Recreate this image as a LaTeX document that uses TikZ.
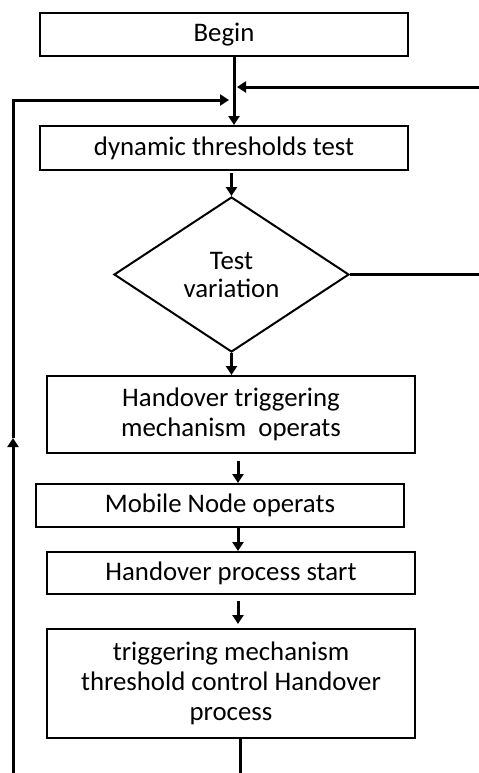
\documentclass[tikz,border=0pt]{standalone}
\usepackage{fontspec}
\setmainfont{Carlito}
\usetikzlibrary{arrows.meta,shapes.geometric}

\begin{document}
\begin{tikzpicture}[x=0.5pt,y=-0.5pt,
  caja/.style={draw,line width=1pt,minimum width=184pt,inner sep=0pt,align=center,
    font=\fontsize{13.4}{15}\selectfont},
  rombo/.style={diamond,draw,line width=1pt,minimum width=117.5pt,minimum height=77.5pt,
    inner sep=0pt,align=center,font=\fontsize{13.4}{14}\selectfont},
  flecha/.style={line width=1.5pt,-{Triangle[length=4.5pt,width=5.5pt]}}]
 \useasboundingbox (0,0) rectangle (478,773);
 % cajas del diagrama
 \node[caja,minimum height=21.5pt] (begin) at (224,34.5) {Begin};
 \node[caja,minimum height=22pt] (dyn) at (224,148) {dynamic thresholds test};
 \node[rombo] (test) at (231.5,274.5) {Test\\variation};
 \node[caja,minimum height=38.5pt] (hto) at (231,414.5) {Handover triggering\\mechanism~~operats};
 \node[caja,minimum height=21.5pt] (mno) at (220,505.5) {Mobile Node operats};
 \node[caja,minimum height=21pt] (hps) at (231,573) {Handover process start};
 \node[caja,minimum height=54.5pt] (tmc) at (231,683.5) {triggering mechanism\\threshold control Handover\\process};
 % puntos de los lazos
 \coordinate (r1) at (481,274.5);
 \coordinate (r2) at (481,87);
 \coordinate (j1) at (237,87);
 \coordinate (b1) at (240,774);
 \coordinate (b2) at (13,774);
 \coordinate (l1) at (13,438);
 \coordinate (l2) at (13,100);
 \coordinate (j2) at (229,100);
 % flujo principal
 \draw[flecha] ([xshift=5pt]begin.south) -- ([xshift=5pt]dyn.north);
 \draw[flecha,shorten <=1pt] (test.north |- dyn.south) -- (test.north);
 \draw[flecha] (test.south) -- (test.south |- hto.north);
 \draw[flecha,shorten <=3.5pt] ([xshift=3.5pt]hto.south) -- ([xshift=9pt]mno.north);
 \draw[flecha] ([xshift=9pt]mno.south) -- ([xshift=3.5pt]hps.north);
 \draw[flecha,shorten <=3pt,shorten >=2pt] ([xshift=3.5pt]hps.south) -- ([xshift=3.5pt]tmc.north);
 % lazo derecho (variacion)
 \draw[flecha] (test.east) -- (r1) -- (r2) -- (j1);
 % lazo izquierdo (vuelta al test)
 \draw[flecha] ([xshift=4.5pt]tmc.south) -- (b1) -- (b2) -- (l1);
 \draw[flecha] (l1) -- (l2) -- (j2);
\end{tikzpicture}
\end{document}
